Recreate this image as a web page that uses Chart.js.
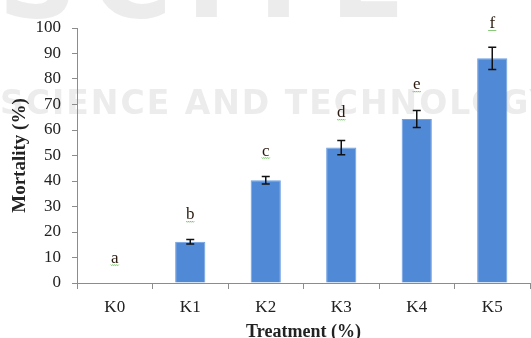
<!DOCTYPE html>
<html>
<head>
<meta charset="utf-8">
<script src="https://cdn.jsdelivr.net/npm/chart.js@4/dist/chart.umd.min.js"></script>
<style>
  html, body { margin: 0; padding: 0; background: #fff; }
  #wrap { width: 531px; height: 338px; position: relative; }
</style>
</head>
<body>
<div id="wrap"><canvas id="grafico"></canvas></div>
<script>
// data
const categorias = ['K0', 'K1', 'K2', 'K3', 'K4', 'K5'];
const mortalidade = [0, 16.2, 40.3, 53.1, 64.3, 88.1];
const erros = [0, 0.9, 1.5, 2.8, 3.3, 4.4];
const letras = ['a', 'b', 'c', 'd', 'e', 'f'];
const alturaLetras = [8, 25, 50, 65, 76, 100];
const ticksY = [0, 10, 20, 30, 40, 50, 60, 70, 80, 90, 100];

const serif = '"Liberation Serif", "Times New Roman", serif';

// faint publisher watermark behind the chart
const marcaDagua = {
    id: 'marcaDagua',
    beforeDraw(chart) {
        const ctx = chart.ctx;
        ctx.save();
        ctx.fillStyle = '#ececec';
        ctx.font = 'bold 110px "DejaVu Sans", sans-serif';
        ctx.textBaseline = 'alphabetic';
        ctx.letterSpacing = '14px';
        ctx.fillText('SCITE', -2, 17);
        ctx.font = 'bold 33px "DejaVu Sans", sans-serif';
        ctx.letterSpacing = '2px';
        ctx.fillText('SCIENCE AND TECHNOLOGY', 0, 114);
        ctx.restore();
    }
};

// error bars and significance letters
const barrasErro = {
    id: 'barrasErro',
    afterDatasetsDraw(chart) {
        const ctx = chart.ctx;
        const x = chart.scales.x, y = chart.scales.y;
        ctx.save();
        ctx.strokeStyle = '#111';
        ctx.lineWidth = 1.5;
        mortalidade.forEach((v, i) => {
            if (!erros[i]) return;
            const cx = x.getPixelForValue(i);
            const top = y.getPixelForValue(v + erros[i]);
            const bot = y.getPixelForValue(v - erros[i]);
            ctx.beginPath();
            ctx.moveTo(cx, top); ctx.lineTo(cx, bot);
            ctx.moveTo(cx - 4, top); ctx.lineTo(cx + 4, top);
            ctx.moveTo(cx - 4, bot); ctx.lineTo(cx + 4, bot);
            ctx.stroke();
        });
        ctx.font = '17px ' + serif;
        ctx.textAlign = 'center';
        ctx.textBaseline = 'alphabetic';
        letras.forEach((l, i) => {
            const cx = x.getPixelForValue(i);
            const by = y.getPixelForValue(alturaLetras[i]);
            ctx.fillStyle = '#2a1a10';
            ctx.fillText(l, cx, by);
            // little green squiggle under the letter
            ctx.strokeStyle = '#6cbf5a';
            ctx.lineWidth = 1;
            ctx.beginPath();
            for (let k = 0; k <= 8; k++) {
                const px = cx - 4 + k;
                const py = by + 2 + (k % 2 ? 1 : 0);
                k ? ctx.lineTo(px, py) : ctx.moveTo(px, py);
            }
            ctx.stroke();
        });
        ctx.restore();
    }
};

new Chart(document.getElementById('grafico'), {
    type: 'bar',
    data: {
        labels: categorias,
        datasets: [{
            label: 'Mortality (%)',
            data: mortalidade,
            backgroundColor: '#5089d6',
            borderColor: '#6e9fe0',
            borderWidth: 1,
            barPercentage: 0.4,
            categoryPercentage: 1
        }]
    },
    options: {
        responsive: true,
        maintainAspectRatio: false,
        animation: false,
        layout: { padding: { top: 28, right: 1, left: 0, bottom: 0 } },
        plugins: { legend: { display: false }, tooltip: { enabled: false } },
        scales: {
            x: {
                grid: { display: true, drawOnChartArea: false, drawTicks: true, tickLength: 6, color: '#8c8c8c', offset: true },
                border: { color: '#8c8c8c', width: 1 },
                ticks: { color: '#222', font: { family: serif, size: 17 }, padding: 8 },
                title: { display: true, text: 'Treatment (%)', color: '#222', font: { family: serif, size: 18, weight: 'bold' }, padding: { top: 9, bottom: -5 } },
                afterFit(s) { s.height = 55; }
            },
            y: {
                min: 0, max: 100,
                afterBuildTicks(s) { s.ticks = ticksY.map(v => ({ value: v })); },
                grid: { display: true, drawOnChartArea: false, drawTicks: true, tickLength: 5, color: '#8c8c8c' },
                border: { color: '#8c8c8c', width: 1 },
                ticks: { color: '#222', font: { family: serif, size: 17 }, padding: 11 },
                title: { display: true, text: 'Mortality (%)', color: '#222', font: { family: serif, size: 19, weight: 'bold' }, padding: { top: 9, bottom: 4 } },
                afterFit(s) { s.width = 77; }
            }
        }
    },
    plugins: [marcaDagua, barrasErro]
});
</script>
</body>
</html>
